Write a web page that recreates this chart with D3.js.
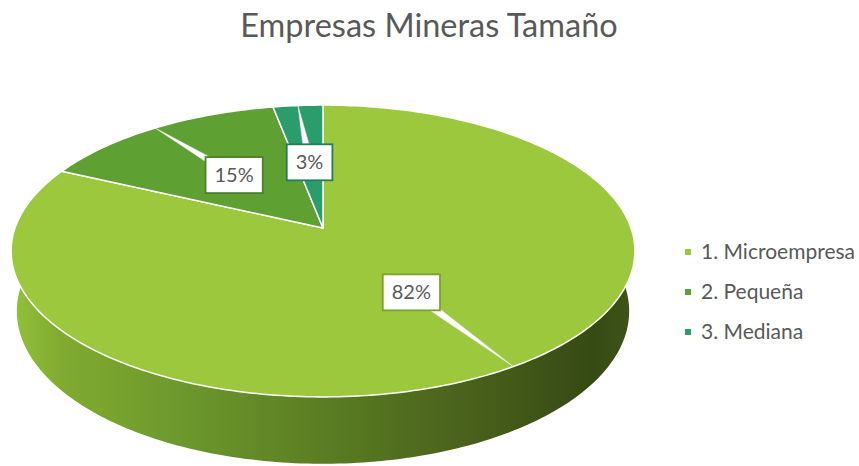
<!DOCTYPE html>
<html>
<head>
<meta charset="utf-8">
<script src="https://cdn.jsdelivr.net/npm/d3@7"></script>
<style>
  body { margin: 0; background: #fff; }
  svg { display: block; font-family: Lato, "Open Sans", sans-serif; }
</style>
</head>
<body>
<div id="chart"></div>
<script>
// Data
const categories = ["1. Microempresa", "2. Pequeña", "3. Mediana"];
const values = [82, 15, 3];
const labels = ["82%", "15%", "3%"];
const colors = ["#9bc83c", "#5fa032", "#2b9c6b"];

const width = 859, height = 466;

const svg = d3.select("#chart").append("svg")
    .attr("width", width)
    .attr("height", height);

svg.append("rect").attr("width", width).attr("height", height).attr("fill", "#fff");

// Gradient for the side wall (light from the left)
const defs = svg.append("defs");
const grad = defs.append("linearGradient")
    .attr("id", "side")
    .attr("gradientUnits", "userSpaceOnUse")
    .attr("x1", 11).attr("x2", 635).attr("y1", 0).attr("y2", 0);
[[0, "#93c13c"], [0.08, "#80ab30"], [0.3, "#6a952b"], [0.5, "#5a7d22"],
 [0.75, "#485f1b"], [0.93, "#364a14"], [1, "#3e5518"]]
    .forEach(([o, c]) => grad.append("stop").attr("offset", o).attr("stop-color", c));

// Simple perspective camera for the 3D pie
const cx = 323, cy = 228;
const D = 5.63, F = 1734;
const sinP = 0.462, cosP = Math.sqrt(1 - sinP * sinP);
const depth = 0.222;

// a: angle clockwise from 12 o'clock, r: radius fraction, y: height (0 = top face)
function project(a, r, y) {
    const x = r * Math.sin(a), z = -r * Math.cos(a);
    const t = D - y * sinP - z * cosP;
    return [cx + F * x / t, cy - F * (y * cosP - z * sinP) / t];
}

function arcPoints(a0, a1, y) {
    const n = Math.max(2, Math.ceil((a1 - a0) / (Math.PI / 180)));
    return d3.range(n + 1).map(i => project(a0 + (a1 - a0) * i / n, 1, y));
}

const pie = d3.pie().sort(null).value(d => d);
const arcs = pie(values);
const line = d3.line();

// Side walls first, the top faces cover the hidden back part
const sides = svg.append("g");
arcs.forEach(d => {
    const top = arcPoints(d.startAngle, d.endAngle, 0);
    const bottom = arcPoints(d.startAngle, d.endAngle, -depth).reverse();
    sides.append("path")
        .attr("d", line(top.concat(bottom)) + "Z")
        .attr("fill", "url(#side)");
});

// Top faces
const tops = svg.append("g");
arcs.forEach((d, i) => {
    const pts = [project(0, 0, 0)].concat(arcPoints(d.startAngle, d.endAngle, 0));
    tops.append("path")
        .attr("d", line(pts) + "Z")
        .attr("fill", colors[i])
        .attr("stroke", "#fff")
        .attr("stroke-width", 1.5)
        .attr("stroke-linejoin", "round");
});

// Data callouts
const callouts = svg.append("g")
    .attr("font-size", 20)
    .attr("fill", "#595959");
arcs.forEach((d, i) => {
    const mid = (d.startAngle + d.endAngle) / 2;
    const [lx, ly] = project(mid, 0.5, 0);
    const [tx, ty] = project(mid, 1, 0);

    // leader wedge
    const dx = tx - lx, dy = ty - ly, len = Math.hypot(dx, dy);
    const nx = -dy / len * 4.5, ny = dx / len * 4.5;
    callouts.append("path")
        .attr("d", line([[lx + nx, ly + ny], [tx, ty], [lx - nx, ly - ny]]) + "Z")
        .attr("fill", "#fff")
        .attr("stroke", "#eeeeee")
        .attr("stroke-width", 0.5);

    const box = callouts.append("rect");
    const txt = callouts.append("text")
        .attr("x", lx)
        .attr("y", ly + 7)
        .attr("text-anchor", "middle")
        .text(labels[i]);
    const w = txt.node().getComputedTextLength() + 18;
    box.attr("x", lx - w / 2)
        .attr("y", ly - 18)
        .attr("width", w)
        .attr("height", 36)
        .attr("fill", "#fff")
        .attr("stroke", d3.color(colors[i]).darker(0.6))
        .attr("stroke-width", 1.8);
});

// Title
svg.append("text")
    .attr("x", 429)
    .attr("y", 37)
    .attr("text-anchor", "middle")
    .attr("font-size", 32.5)
    .attr("fill", "#595959")
    .text("Empresas Mineras Tamaño");

// Legend
const legendY = d3.scalePoint().domain(categories).range([252, 332]);
const legend = svg.append("g").attr("font-size", 21).attr("fill", "#595959");
categories.forEach((c, i) => {
    const y = legendY(c);
    legend.append("rect")
        .attr("x", 685).attr("y", y - 3)
        .attr("width", 6).attr("height", 6)
        .attr("fill", colors[i]);
    legend.append("text")
        .attr("x", 701).attr("y", y + 7)
        .text(c);
});
</script>
</body>
</html>
